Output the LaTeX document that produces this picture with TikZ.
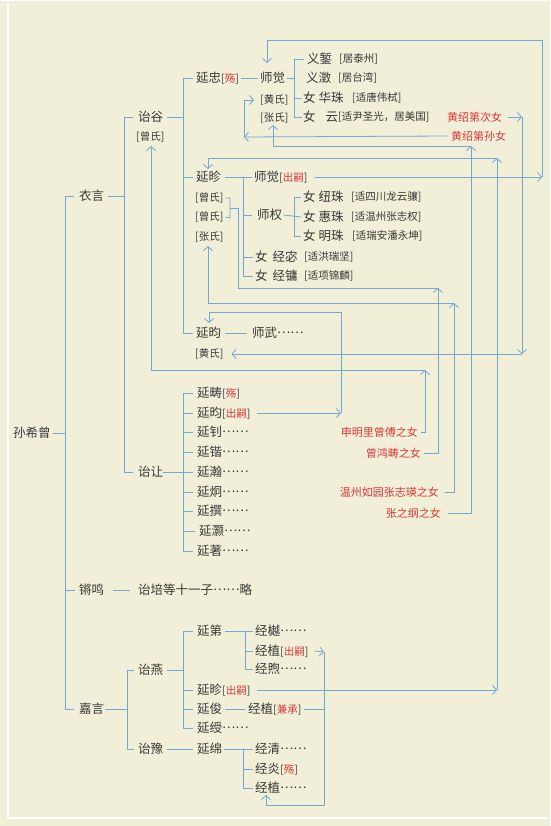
\documentclass[tikz,border=0pt]{standalone}
\usepackage{fontspec}
\usetikzlibrary{arrows.meta}
\newfontfamily\cjk{Noto Sans CJK SC}
\definecolor{bgc}{HTML}{F1EFD8}
\definecolor{lnc}{HTML}{74A6D6}
\definecolor{txc}{HTML}{383838}
\definecolor{rdc}{HTML}{D8383A}
\newcommand{\red}[1]{{\fontsize{10.5}{12}\selectfont[\textcolor{rdc}{#1}]}}
\newcommand{\dd}{\raisebox{0.33em}{……}}
\tikzset{
  nm/.style={font=\cjk\fontsize{12.5}{14}\selectfont, text=txc, inner sep=0pt, anchor=west},
  nt/.style={font=\cjk\fontsize{10.5}{12}\selectfont, text=txc, inner sep=0pt, anchor=west},
  rl/.style={font=\cjk\fontsize{11}{13}\selectfont, text=rdc, inner sep=0pt, anchor=east},
  ln/.style={draw=lnc, line width=0.8pt},
  ar/.style={ln, -{Straight Barb[length=4pt,width=9pt]}},
}
\begin{document}
\begin{tikzpicture}[x=1pt,y=-1pt]
\fill[bgc] (0,0) rectangle (550,826);
\useasboundingbox (0,0) rectangle (550,826);
\draw[white, line width=1.2pt] (8,3) -- (8,818) -- (548,818);
\draw[white, line width=1pt] (0,1) -- (550,1);
% bracket columns
\coordinate (b0) at (65,0);
\coordinate (b1) at (124,0);
\coordinate (b2) at (127,0);
\coordinate (b3) at (183,0);
\coordinate (b4) at (294,0);
\coordinate (b5) at (243,0);
\coordinate (b6) at (294,0);
\coordinate (b7) at (245,0);
\coordinate (b8) at (243,0);
% level 0-2
\node[nm] (sxz) at (13,433) {孙希曾};
\node[nm] (yy) at (79,196) {衣言};
\node[nm] (qm) at (79,590) {锵鸣};
\node[nm] (jy) at (79,709) {嘉言};
\node[nm] (yg) at (138,117) {诒谷};
\node[nt] (ygz) at (136,137) {[曾氏]};
\node[nm] (yr) at (138,472) {诒让};
\node[nm] (yp) at (138,590) {诒培等十一子\dd 略};
\node[nm] (yyan) at (138,670) {诒燕};
\node[nm] (yyu) at (138,749) {诒豫};
% yanzhong
\node[nm] (yzh) at (196,78) {延忠\red{殇}};
\node[nm] (sj1) at (260,78) {师觉};
\node[nt] (sj1a) at (260,100) {[黄氏]};
\node[nt] (sj1b) at (260,118) {[张氏]};
\node[nm] (yj1) at (307,59) {义錾};
\node[nt] (yj1n) at (339,59) {[居泰州]};
\node[nm] (yj2) at (306,78) {义澂};
\node[nt] (yj2n) at (338,78) {[居台湾]};
\node[nm] (hz) at (303,98) {女\hspace{3pt}华珠};
\node[nt] (hzn) at (352,98) {[适唐伟栻]};
\node[nm] (yun) at (303,117) {女\hspace{10pt}云};
\node[nt] (yunn) at (338,117) {[适尹圣光，居美国]};
\node[rl,anchor=west] (hs2) at (447,117) {黄绍第次女};
\node[rl,anchor=west] (hs3) at (451,136) {黄绍第孙女};
% yanzhen
\node[nm] (yzn) at (196,177) {延昣};
\node[nt] (z1) at (195,198) {[曾氏]};
\node[nt] (z2) at (195,217) {[曾氏]};
\node[nt] (z3) at (195,237) {[张氏]};
\node[nm] (sj2) at (254,177) {师觉\red{出嗣}};
\node[nm] (sq) at (257,215) {师权};
\node[nm] (nz) at (303,197) {女\hspace{3pt}纽珠};
\node[nt] (nzn) at (351,197) {[适四川龙云骧]};
\node[nm] (hz2) at (303,217) {女\hspace{3pt}惠珠};
\node[nt] (hz2n) at (351,217) {[适温州张志权]};
\node[nm] (mz) at (303,236) {女\hspace{3pt}明珠};
\node[nt] (mzn) at (352,236) {[适瑞安潘永坤]};
\node[nm] (jm) at (255,257) {女\hspace{5pt}经宓};
\node[nt] (jmn) at (304,257) {[适洪瑞坚]};
\node[nm] (jyo) at (255,276) {女\hspace{5pt}经镛};
\node[nt] (jyn) at (304,276) {[适项锦麟]};
% yanjun
\node[nm] (yjun) at (196,333) {延昀};
\node[nm] (sw) at (252,333) {师武\dd};
\node[nt] (yjh) at (195,354) {[黄氏]};
% yirang children
\node[nm] (c1) at (197,393) {延畴\red{殇}};
\node[nm] (c2) at (197,413) {延昀\red{出嗣}};
\node[nm] (c3) at (197,432) {延钊\dd};
\node[nm] (c4) at (197,452) {延锴\dd};
\node[nm] (c5) at (197,472) {延瀚\dd};
\node[nm] (c6) at (197,492) {延炯\dd};
\node[nm] (c7) at (197,511) {延撰\dd};
\node[nm] (c8) at (199,531) {延灏\dd};
\node[nm] (c9) at (197,551) {延著\dd};
% red labels
\node[rl] (l1) at (418,432) {申明里曾傅之女};
\node[rl] (l2) at (421,453) {曾鸿畴之女};
\node[rl] (l3) at (439,492) {温州如园张志瑛之女};
\node[rl] (l4) at (441,513) {张之纲之女};
% jiayan descendants
\node[nm] (ydi) at (197,631) {延第};
\node[nm] (jyue) at (255,631) {经樾\dd};
\node[nm] (jz1) at (255,651) {经植\red{出嗣}};
\node[nm] (jxu) at (255,669) {经煦\dd};
\node[nm] (yzn2) at (197,690) {延昣\red{出嗣}};
\node[nm] (yjn) at (197,709) {延俊};
\node[nm] (jz2) at (248,709) {经植\red{兼承}};
\node[nm] (ysh) at (197,728) {延绶\dd};
\node[nm] (ymian) at (197,749) {延绵};
\node[nm] (jq) at (255,749) {经清\dd};
\node[nm] (jyan) at (255,769) {经炎\red{殇}};
\node[nm] (jz3) at (255,788) {经植\dd};
% tree lines
\draw[ln] ([xshift=2pt]sxz.east) -- (sxz.east -| b0);
\draw[ln] ([xshift=-5pt]yy.west) -- (yy.west -| b0) -- (jy.west -| b0) -- ([xshift=-5pt]jy.west);
\draw[ln] (qm.west -| b0) -- ([xshift=-4pt]qm.west);
\draw[ln] ([xshift=4pt]yy.east) -- (yy.east -| b1);
\draw[ln] ([xshift=-5pt]yg.west) -- (yg.west -| b1) -- (yr.west -| b1) -- ([xshift=-5pt]yr.west);
\draw[ln] ([xshift=9pt]qm.east) -- ([xshift=-8pt]yp.west);
\draw[ln] ([xshift=1pt]jy.east) -- (jy.east -| b2);
\draw[ln] ([xshift=-4pt]yyan.west) -- (yyan.west -| b2) -- (yyu.west -| b2) -- ([xshift=-4pt]yyu.west);
\draw[ln] ([xshift=4pt]yg.east) -- (yg.east -| b3);
\draw[ln] ([xshift=-3pt]yzh.west) -- (yzh.west -| b3) -- (yjun.west -| b3) -- ([xshift=-3pt]yjun.west);
\draw[ln] (yzn.west -| b3) -- ([xshift=-3pt]yzn.west);
\draw[ln] (yr.east) -- (yr.east -| b3);
\draw[ln] ([xshift=-4pt]c1.west) -- (c1.west -| b3) -- (c9.west -| b3) -- ([xshift=-4pt]c9.west);
\foreach \c in {c2,c3,c4,c5,c6,c7,c8} \draw[ln] (\c.west -| b3) -- ([xshift=-4pt]\c.west);
\draw[ln] ([xshift=4pt]yyan.east) -- (yyan.east -| b3);
\draw[ln] ([xshift=-4pt]ydi.west) -- (ydi.west -| b3) -- (ysh.west -| b3) -- ([xshift=-4pt]ysh.west);
\foreach \c in {yzn2,yjn} \draw[ln] (\c.west -| b3) -- ([xshift=-4pt]\c.west);
\draw[ln] ([xshift=4pt]yyu.east) -- ([xshift=-4pt]ymian.west);
\draw[ln] ([xshift=2pt]yzh.east) -- ([xshift=-2pt]sj1.west);
\draw[ln] ([xshift=2pt]sj1.east) -- (sj1.east -| b4);
\draw[ln] ([xshift=-3pt]yj1.west) -- (yj1.west -| b4) -- (yun.west -| b4) -- ([xshift=-1pt]yun.west);
\draw[ln] (hz.west -| b4) -- ([xshift=-1pt]hz.west);
\draw[ln] ([xshift=4pt]yzn.east) -- ([xshift=-2pt]sj2.west);
\draw[ln] (yzn.east -| b5) -- (jyo.west -| b5) -- ([xshift=-2pt]jyo.west);
\draw[ln] (sq.west -| b5) -- ([xshift=-5pt]sq.west);
\draw[ln] (jm.west -| b5) -- ([xshift=-2pt]jm.west);
\draw[ln] ([xshift=1pt]sq.east) -- ([xshift=-2pt]hz2.west);
\draw[ln] ([xshift=-2pt]nz.west) -- (nz.west -| b6) -- (mz.west -| b6) -- ([xshift=-2pt]mz.west);
\draw[ln] ([xshift=4pt]yjun.east) -- ([xshift=-5pt]sw.west);
\draw[ln] ([xshift=3pt]ydi.east) -- ([xshift=-2pt]jyue.west);
\draw[ln] (jyue.west -| b7) -- (jxu.west -| b7) -- ([xshift=-2pt]jxu.west);
\draw[ln] (jz1.west -| b7) -- ([xshift=-2pt]jz1.west);
\draw[ln] ([xshift=3pt]yjn.east) -- ([xshift=-3pt]jz2.west);
\draw[ln] ([xshift=2pt]ymian.east) -- ([xshift=-2pt]jq.west);
\draw[ln] (jq.west -| b8) -- (jz3.west -| b8) -- ([xshift=-2pt]jz3.west);
\draw[ln] (jyan.west -| b8) -- ([xshift=-2pt]jyan.west);
% cross links
\coordinate (k1) at (542,177);
\draw[ar] ([xshift=7pt]sj2.east) -- (k1);
\draw[ar] (k1) -- (542,40) -- (267,40) -- (267,63);
\coordinate (k2) at (522,117);
\draw[ar] ([xshift=6pt]hs2.east) -- (k2);
\draw[ar] (k2) -- (522,354);
\draw[ar] (522,354) -- ([xshift=8pt]yjh.east);
\coordinate (k3) at (244,137);
\draw[ar] ([xshift=-3pt]hs3.west) -- (k3);
\draw[ar] (k3) -- (244,100) -- ([xshift=-6pt]sj1a.west);
\coordinate (k4) at (471,146);
\draw[ar] ([xshift=7pt]l4.east) -- (471,513) -- (k4);
\draw[ar] (k4) -- (273,146) -- (273,125);
\coordinate (k5) at (497,158);
\draw[ar] ([xshift=6pt]yzn2.east) -- (497,690);
\draw[ar] (497,690) -- (k5);
\draw[ar] (k5) -- (208,158) -- (208,169);
\coordinate (k6) at (438,288);
\draw[ar] ([xshift=3pt]l2.east) -- (438,453) -- (k6);
\draw[ln] (k6) -- (238,288) -- (238,208) -- (230,208);
\draw[ln] ([xshift=2pt]z1.east) -- (230,198) -- (230,218) -- ([xshift=2pt]z2.east);
\coordinate (k7) at (454,303);
\draw[ar] ([xshift=6pt]l3.east) -- (454,492) -- (k7);
\draw[ar] (k7) -- (208,303) -- (208,246);
\coordinate (k8) at (341,413);
\draw[ar] ([xshift=6pt]c2.east) -- (k8);
\draw[ar] (k8) -- (341,312) -- (209,312) -- (209,323);
\coordinate (k9) at (425,370);
\draw[ar] ([xshift=3pt]l1.east) -- (425,432) -- (k9);
\draw[ar] (k9) -- (151,370) -- (151,146);
\coordinate (k10) at (324,652);
\draw[ar] ([xshift=6pt]jz1.east) -- (k10);
\draw[ar] (k10) -- (324,805) -- (266,805) -- (266,795);
\draw[ln] ([xshift=2pt]jz2.east) -- (324,709);
\end{tikzpicture}
\end{document}
